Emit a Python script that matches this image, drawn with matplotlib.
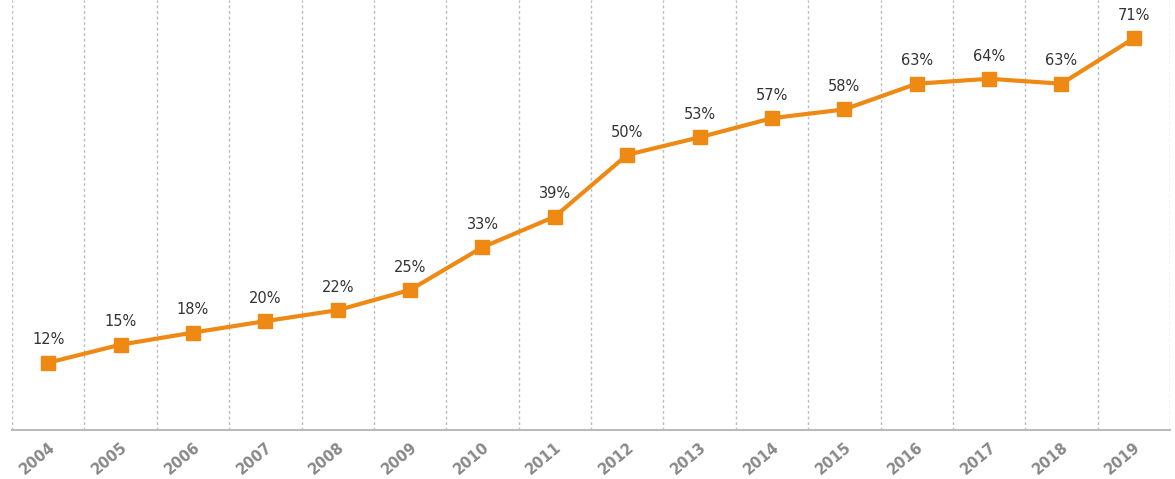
import numpy as np
import matplotlib.pyplot as plt

years = ['2004', '2005', '2006', '2007', '2008', '2009', '2010', '2011',
         '2012', '2013', '2014', '2015', '2016', '2017', '2018', '2019']
share = [12, 15, 18, 20, 22, 25, 33, 39, 50, 53, 57, 58, 63, 64, 63, 71]
# actual plotted heights (labels are rounded)
heights = [12.3, 15.6, 17.8, 19.9, 21.9, 25.6, 33.4, 39.0, 50.3, 53.5, 57.0, 58.6, 63.3, 64.2, 63.3, 71.6]

orange = '#EE8A14'

fig = plt.figure(figsize=(11.75, 4.79), dpi=100)
ax = fig.add_axes([12/1175, 49/479, 1158/1175, 430/479])

x = np.arange(len(years))
ax.plot(x, heights, color=orange, lw=3, marker='s', ms=10, zorder=3)

for xi, yi, v in zip(x, heights, share):
    ax.annotate(f'{v}%', (xi, yi), xytext=(0, 11), textcoords='offset points',
                ha='center', va='bottom', fontsize=10.5, color='#333333')

ax.set_xlim(-0.5, len(years) - 0.5)
ax.set_ylim(0, 78.6)

for b in np.arange(-0.5, len(years), 1.0):
    ax.axvline(b, color='#bbbbbb', lw=1, ls=(0, (2, 2)), zorder=1)

ax.set_xticks(x)
ax.set_xticklabels(years, rotation=40, ha='right', rotation_mode='anchor',
                   fontsize=10.5, color='#888888', fontweight='bold')
ax.tick_params(axis='x', length=0, pad=7)
ax.set_yticks([])

for side in ['top', 'left', 'right']:
    ax.spines[side].set_visible(False)
ax.spines['bottom'].set_color('#bbbbbb')
ax.spines['bottom'].set_linewidth(1.5)

fig.savefig('out.png', dpi=100)
